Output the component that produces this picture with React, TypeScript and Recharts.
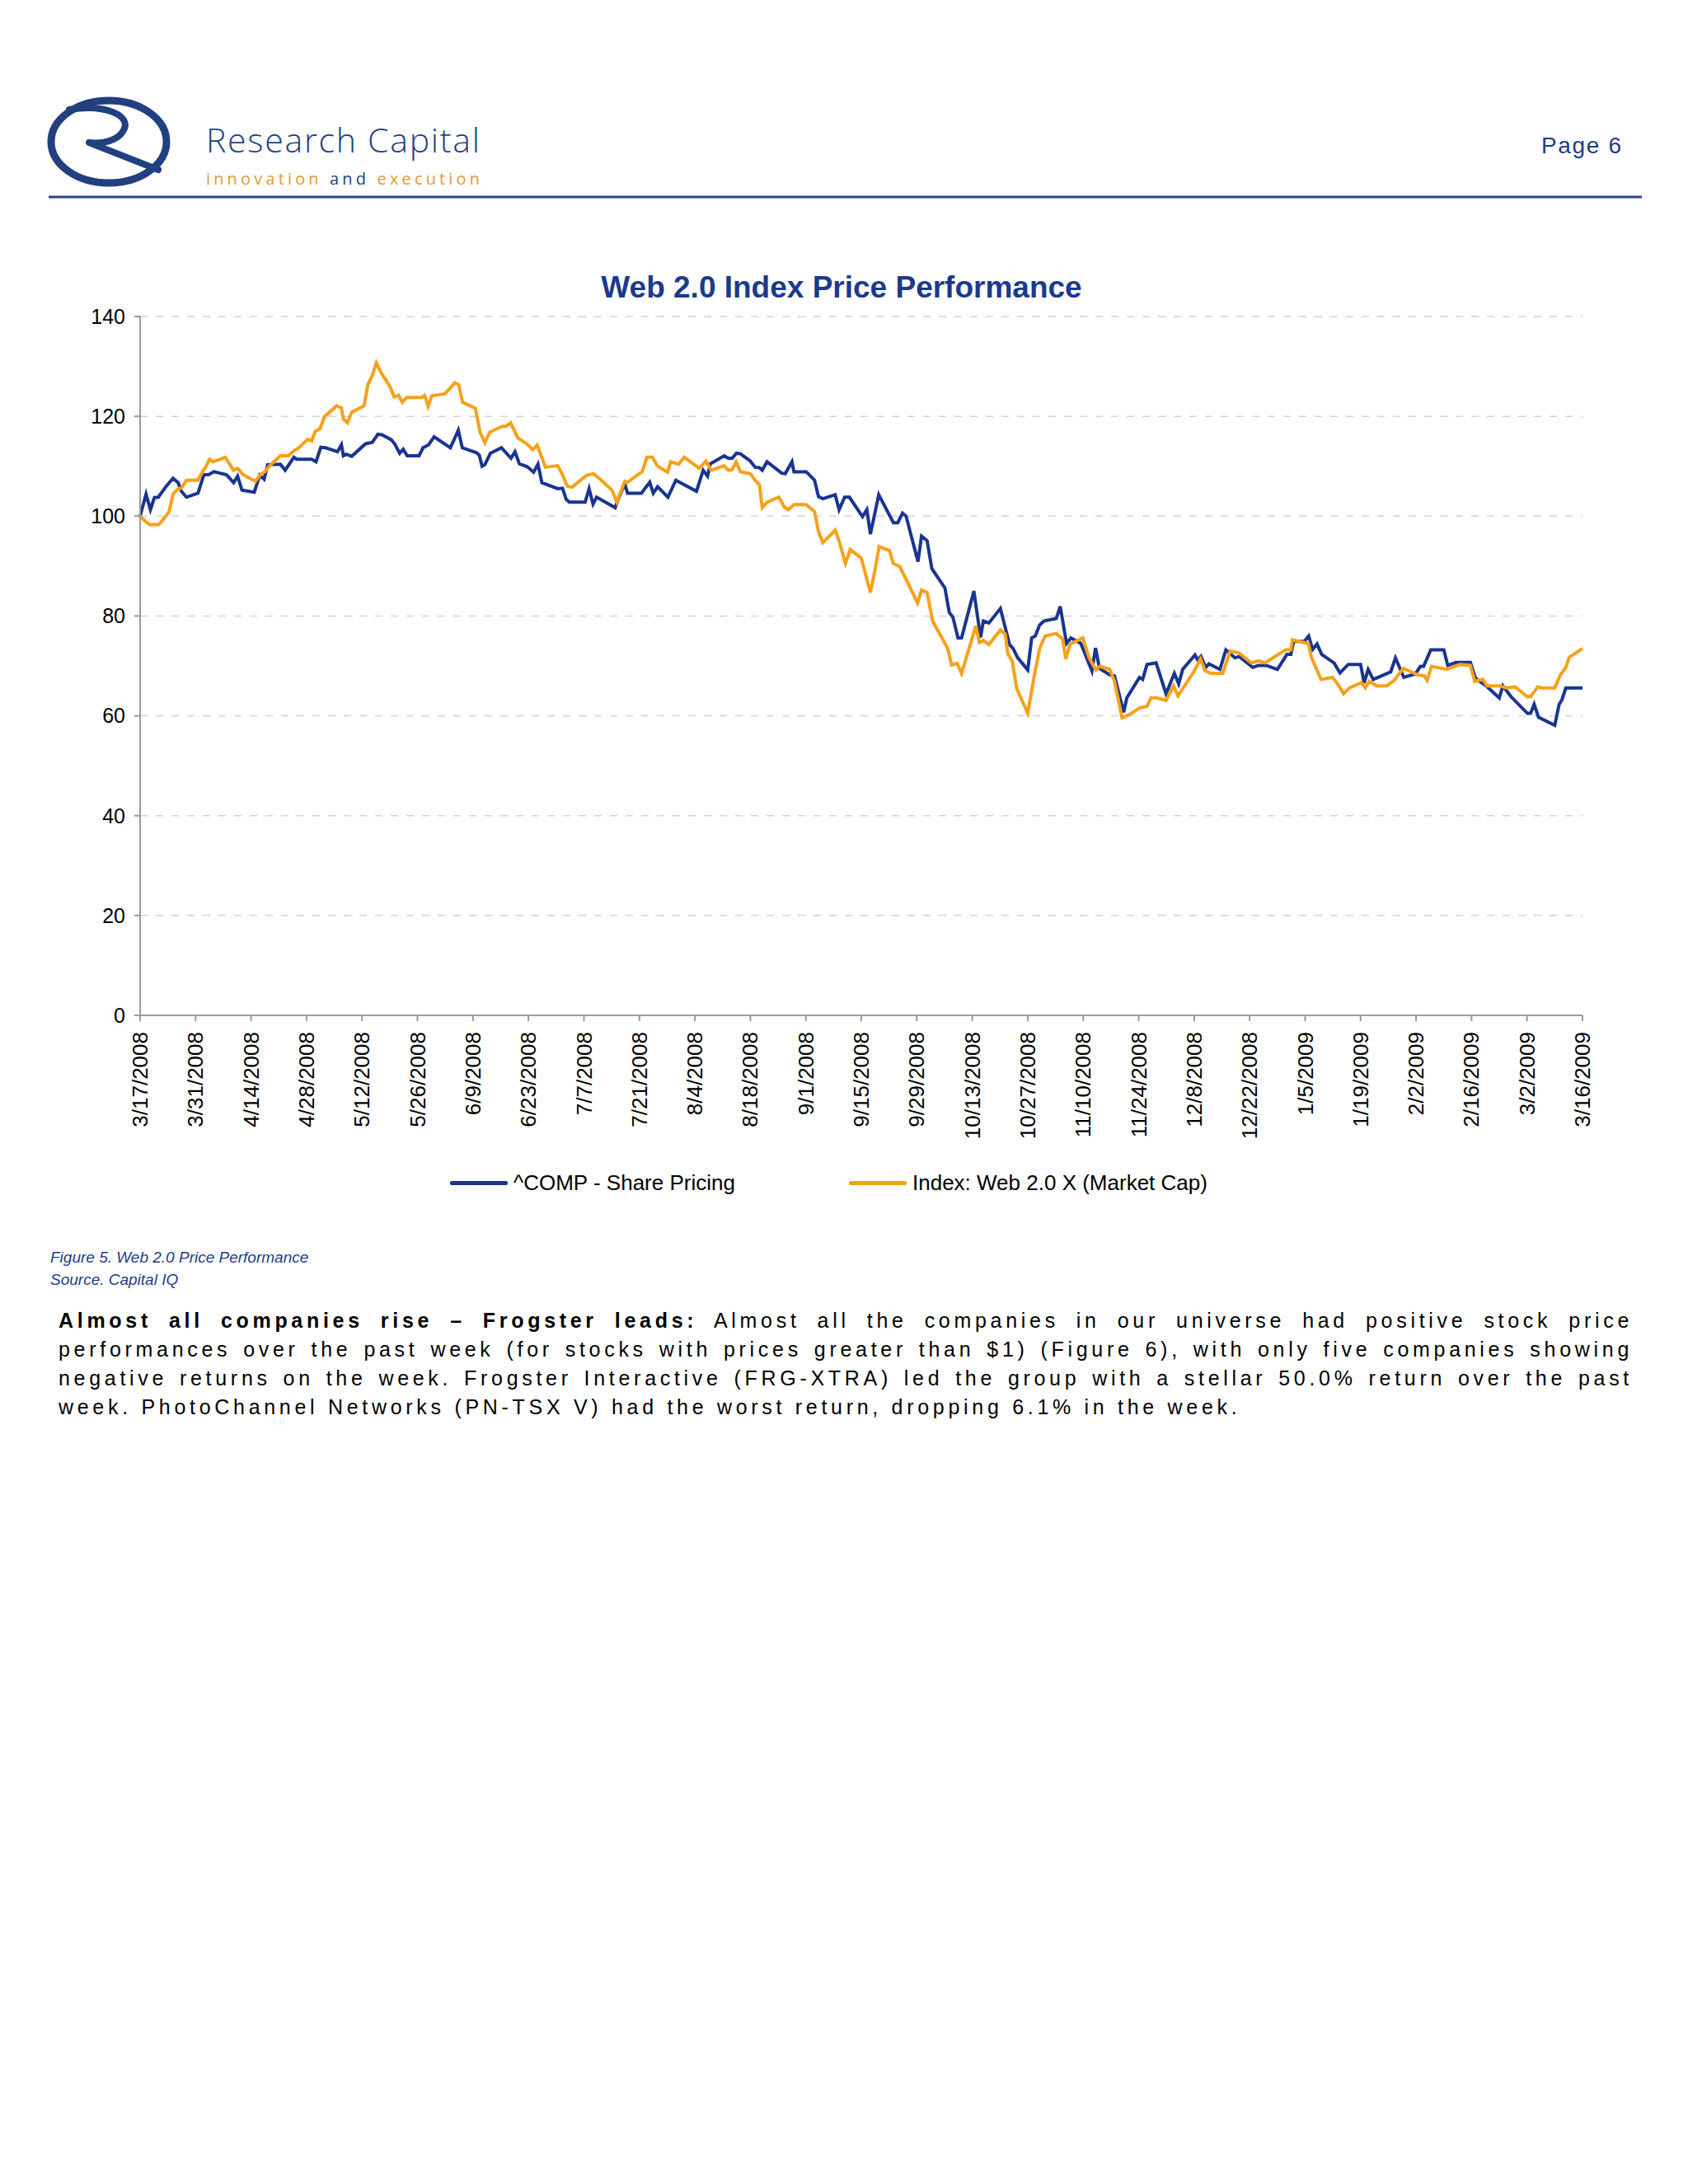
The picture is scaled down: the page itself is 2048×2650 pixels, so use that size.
import React from 'react';
import { LineChart, Line, XAxis, YAxis, CartesianGrid, Legend } from 'recharts';

const tickDays = [0, 14, 28, 42, 56, 70, 84, 98, 112, 126, 140, 154, 168, 182, 196, 210, 224, 238, 252, 266, 280, 294, 308, 322, 336, 350, 364];
const tickLabels = [
  '3/17/2008', '3/31/2008', '4/14/2008', '4/28/2008', '5/12/2008', '5/26/2008', '6/9/2008',
  '6/23/2008', '7/7/2008', '7/21/2008', '8/4/2008', '8/18/2008', '9/1/2008', '9/15/2008',
  '9/29/2008', '10/13/2008', '10/27/2008', '11/10/2008', '11/24/2008', '12/8/2008',
  '12/22/2008', '1/5/2009', '1/19/2009', '2/2/2009', '2/16/2009', '3/2/2009', '3/16/2009',
];
const yTicks = [0, 20, 40, 60, 80, 100, 120, 140];

const seriesNames = ['^COMP - Share Pricing', 'Index: Web 2.0 X (Market Cap)'];
const seriesColors = ['#1a3590', '#f7a11a'];

const compDays = [
  0, 1.5, 2.6, 3.6, 4.6, 6.6, 8.3, 9.6, 10.4, 11.7, 14.6, 16.1, 17.3, 18.6, 21.8, 23.6, 24.6, 25.7, 28.8, 30.2,
  31.3, 32.2, 35.4, 36.6, 38.8, 39.5, 43.3, 44.4, 45.6, 46.8, 49.8, 50.8, 51.3, 52, 53.4, 56.9, 58.6, 60, 61, 63.4,
  64.3, 65.5, 66.4, 67.4, 70.4, 71.4, 72.8, 74.2, 78.3, 80.3, 81.3, 84.9, 85.6, 86.3, 87, 88.4, 91.2, 93.6, 94.6, 95.7,
  97.7, 99.3, 100.4, 101.4, 105.4, 106.6, 107.5, 108.3, 112.3, 113.3, 114.3, 115.2, 119.9, 120.6, 122.3, 123, 126.5, 128.6, 129.5, 130.6,
  133.2, 135.2, 140.4, 142.1, 143.2, 143.9, 147.4, 148.4, 149.4, 150.5, 151.5, 153.9, 155.2, 156.3, 157, 158.2, 161.9, 162.8, 164.5, 165,
  168.1, 170.2, 171.2, 172.3, 175.4, 176.4, 177.8, 179, 182.3, 183.4, 184.3, 186.4, 190.1, 191.2, 192.4, 193.3, 196.3, 197.2, 198.6, 199.8,
  203.1, 204.2, 205.1, 206.4, 207.3, 210.4, 212.1, 212.8, 214.2, 217.1, 219.4, 220.3, 221.5, 224, 225, 225.9, 227, 228.1, 231.2, 232.2,
  233.8, 234.9, 237.4, 240.2, 241.1, 242.1, 244.7, 245.9, 248.2, 249, 252.2, 253, 254.1, 256.4, 258.9, 261, 262.1, 263.1, 266.2, 266.9,
  267.7, 268.9, 269.7, 272.5, 274, 276.3, 277.3, 280.8, 282.2, 284.2, 287, 289.4, 290.4, 291.1, 293.8, 294.9, 295.9, 297, 298.2, 301.3,
  302.8, 304.9, 308, 308.9, 309.9, 311.2, 315.6, 316.8, 318.9, 321.8, 323.1, 323.9, 325.7, 329, 330, 332.1, 335.7, 337, 339.4, 343,
  343.9, 346, 350.1, 350.9, 351.8, 352.9, 357, 358.1, 358.8, 359.8, 364,
];
const compValues = [
  100, 104.4, 101.3, 103.7, 103.8, 106.0, 107.6, 106.7, 105.0, 103.8, 104.6, 108.3, 108.3, 108.9, 108.3, 106.7, 108.0, 105.2, 104.8, 108.2,
  107.4, 110.3, 110.4, 109.2, 111.8, 111.4, 111.4, 110.9, 113.8, 113.7, 112.9, 114.3, 112.1, 112.4, 112.0, 114.5, 114.8, 116.4, 116.3, 115.3,
  114.4, 112.6, 113.4, 112.1, 112.1, 113.7, 114.3, 115.9, 113.7, 117.2, 113.7, 112.7, 112.2, 110.0, 110.3, 112.6, 113.7, 111.6, 112.9, 110.5,
  109.9, 108.8, 110.4, 106.7, 105.5, 105.6, 103.4, 102.8, 102.8, 105.5, 102.4, 103.8, 101.7, 103.3, 106.5, 104.6, 104.6, 106.8, 104.6, 105.9,
  103.8, 107.2, 105.0, 109.2, 108.0, 110.5, 112.1, 111.6, 111.6, 112.6, 112.5, 111.1, 109.8, 109.7, 109.2, 110.9, 108.6, 108.5, 110.9, 108.9,
  108.9, 107.2, 103.9, 103.5, 104.3, 101.3, 103.8, 103.8, 99.9, 101.3, 96.4, 104.3, 98.7, 98.7, 100.6, 100.0, 90.9, 96.0, 95.1, 89.5,
  85.6, 80.7, 79.8, 75.6, 75.6, 85.0, 75.7, 79.0, 78.6, 81.5, 74.3, 73.5, 71.6, 69.2, 75.6, 76.0, 78.2, 79.0, 79.5, 81.9,
  74.5, 75.6, 74.5, 69.0, 73.6, 69.5, 68.2, 68.0, 60.7, 63.6, 67.7, 67.3, 70.3, 70.6, 64.4, 68.5, 66.4, 69.3, 72.2, 71.2,
  71.9, 69.7, 70.4, 69.3, 73.2, 71.6, 71.9, 69.7, 70.1, 70.1, 69.3, 72.3, 72.3, 74.9, 74.9, 76.0, 73.3, 74.4, 72.3, 70.6,
  68.6, 70.3, 70.3, 66.6, 69.3, 67.3, 68.8, 71.6, 67.7, 68.4, 69.9, 69.9, 73.2, 73.2, 70.1, 70.7, 70.7, 67.5, 66.2, 63.6,
  66.0, 63.8, 60.5, 60.5, 62.3, 59.7, 58.1, 62.3, 63.2, 65.6, 65.6,
];

const webDays = [
  0, 1.4, 2.4, 4.7, 5.9, 7.3, 8.3, 9.6, 10.4, 11.7, 14.6, 15.8, 16.6, 17.5, 18.4, 21.5, 23.6, 24.6, 26, 29.1,
  30.4, 31.5, 32.6, 35.4, 37.4, 38.8, 39.9, 42.3, 43.3, 44.2, 45.4, 46.5, 49.6, 50.8, 51.3, 52.3, 53.4, 56.5, 57.5, 58.6,
  59.6, 60.7, 63.1, 64.1, 65.2, 66.2, 67.3, 71.1, 71.8, 72.7, 73.6, 76.9, 78.2, 79.4, 80.4, 81.4, 84.6, 85.8, 87, 88.2,
  91.5, 92.3, 93.5, 95.3, 97.7, 99.1, 100.2, 102.3, 105.4, 106.6, 107.8, 109, 112.7, 114.4, 116.1, 119.1, 120.3, 122.2, 123, 126.7,
  127.9, 129.3, 130.5, 133.1, 133.9, 135.9, 137.3, 141.1, 142.8, 144.1, 147.4, 148.4, 149.4, 150.4, 151.5, 154, 155.2, 156.3, 157, 158.2,
  161.2, 162.6, 163.6, 165, 168.1, 170.2, 171.2, 172.3, 175.4, 176.4, 178, 179.2, 182, 184.3, 185.4, 186.5, 189.1, 190.1, 191.7, 193.4,
  196.2, 197.2, 198.6, 200, 203.8, 204.8, 206.2, 207.3, 210.9, 211.8, 212.8, 214.2, 217.1, 218.3, 219, 220.1, 221.2, 224, 225.6, 227,
  228.4, 231.2, 232.8, 233.6, 234.7, 237.9, 239.5, 241.2, 242.2, 244.7, 245.9, 247.8, 249.5, 252.3, 254.1, 255.1, 256.5, 258.9, 260.8, 261.9,
  265.9, 267.6, 268.7, 270.1, 273.2, 275.1, 277.3, 280.4, 282.2, 283.9, 287, 289.1, 290.4, 290.8, 294.8, 295.6, 296.7, 298, 300.9, 302,
  302.8, 303.7, 305.2, 307.5, 308.2, 309.2, 310.2, 312.1, 314.6, 316.5, 317.5, 318.8, 322.4, 324.1, 324.8, 325.9, 329.7, 331, 333.1, 335.7,
  336.8, 338.9, 339.9, 343.2, 344.9, 347, 350.1, 350.9, 352.7, 353.9, 357, 358.4, 359.8, 360.6, 364,
];
const webValues = [
  100, 98.9, 98.3, 98.3, 99.4, 100.9, 104.4, 105.5, 105.6, 107.2, 107.2, 109.0, 109.9, 111.4, 110.9, 111.8, 109.2, 109.6, 108.3, 107.0,
  108.3, 108.9, 110.0, 112.1, 112.1, 113.1, 113.6, 115.4, 115.1, 117.0, 117.5, 119.9, 122.1, 121.7, 119.5, 118.7, 120.8, 122.1, 126.4, 128.2,
  130.7, 128.9, 125.9, 123.9, 124.2, 122.8, 123.8, 123.8, 124.2, 122.0, 124.1, 124.5, 125.6, 126.7, 126.3, 122.8, 121.6, 116.8, 114.7, 116.8,
  118.0, 118.0, 118.7, 115.7, 114.4, 113.3, 114.2, 109.8, 110.1, 108.3, 106.0, 105.8, 108.2, 108.5, 107.4, 105.2, 102.8, 106.8, 106.8, 108.9,
  111.8, 111.8, 110.1, 108.8, 110.9, 110.4, 111.8, 109.6, 111.0, 109.2, 110.1, 109.2, 109.3, 110.9, 108.9, 108.5, 107.2, 106.3, 101.7, 102.8,
  103.8, 101.8, 101.3, 102.3, 102.3, 100.9, 96.9, 94.7, 97.2, 95.0, 90.5, 93.3, 91.6, 84.7, 89.0, 93.9, 93.1, 90.5, 89.9, 87.2,
  82.6, 85.2, 84.7, 79.0, 73.5, 70.2, 70.5, 68.5, 78.0, 74.7, 75.1, 74.3, 77.2, 76.4, 72.4, 71.0, 65.5, 60.5, 67.8, 73.5,
  76.0, 76.5, 75.4, 71.4, 74.4, 75.6, 71.6, 69.2, 69.9, 69.3, 66.9, 59.6, 60.2, 61.6, 61.9, 63.6, 63.6, 63.1, 66.0, 64.0,
  68.8, 71.4, 69.1, 68.5, 68.5, 73.0, 72.6, 70.6, 71.0, 70.6, 72.2, 73.2, 73.2, 75.2, 74.5, 71.7, 69.7, 67.3, 67.7, 66.6,
  65.7, 64.4, 65.6, 66.4, 66.7, 65.6, 66.9, 66.0, 66.0, 67.1, 68.2, 69.5, 68.2, 68.0, 67.1, 69.9, 69.3, 69.7, 70.3, 70.1,
  66.9, 67.3, 66.0, 66.0, 65.6, 65.8, 63.8, 63.8, 65.8, 65.6, 65.6, 68.2, 69.7, 71.7, 73.5,
];

const compData = compDays.map((d, i) => ({ day: d, value: compValues[i] }));
const webData = webDays.map((d, i) => ({ day: d, value: webValues[i] }));

const FONT = '"Liberation Sans", Arial, Helvetica, sans-serif';
const NAVY = '#1f3c88';
const AXIS = '#9a9a9a';

const XTick = (props: any) => {
  const { x, y, payload } = props;
  const idx = tickDays.indexOf(payload.value);
  const label = idx >= 0 ? tickLabels[idx] : '';
  return (
    <text
      x={x}
      y={y}
      transform={`rotate(-90 ${x} ${y})`}
      textAnchor="end"
      dy="0.35em"
      fontSize={26}
      fill="#000"
      fontFamily={FONT}
    >
      {label}
    </text>
  );
};

const LegendContent = () => {
  const lefts = [546, 1030];
  return (
    <div style={{ position: 'relative', height: 0, width: 2048 }}>
      {seriesNames.map((name, i) => (
        <div
          key={name}
          style={{
            position: 'absolute',
            left: lefts[i],
            top: 0,
            height: 30,
            display: 'flex',
            alignItems: 'center',
            whiteSpace: 'nowrap',
          }}
        >
          <span style={{ display: 'inline-block', width: 70, height: 5, background: seriesColors[i], marginRight: 7, borderRadius: 2 }} />
          <span style={{ fontFamily: FONT, fontSize: 26, color: '#000' }}>{name}</span>
        </div>
      ))}
    </div>
  );
};

const bodyLine: React.CSSProperties = {
  textAlign: 'justify',
  textAlignLast: 'justify' as any,
  height: 35,
};

export default function App() {
  return (
    <div style={{ position: 'absolute', left: 0, top: 0, width: 2048, height: 2650, background: '#fff', overflow: 'hidden' }}>
      {/* Header */}
      <svg width={2048} height={260} style={{ position: 'absolute', left: 0, top: 0 }}>
        <ellipse cx={132} cy={172} rx={70} ry={50} fill="none" stroke="#22407f" strokeWidth={9} />
        <path
          d="M 84 133 C 128 126, 160 140, 150 158 C 143 171, 124 175, 108 173 L 192 206"
          fill="none"
          stroke="#22407f"
          strokeWidth={8}
          strokeLinecap="round"
          strokeLinejoin="round"
        />
        <text x={250} y={185} fontFamily='"Open Sans", "Noto Sans", sans-serif' fontWeight={300} fontSize={41} fill="#23427f" textLength={332} lengthAdjust="spacing">
          Research Capital
        </text>
        <text x={250} y={224} fontFamily='"Open Sans", "Noto Sans", sans-serif' fontSize={20} textLength={332} lengthAdjust="spacing">
          <tspan fill="#e39b2e">innovation</tspan>
          <tspan fill="#23427f"> and </tspan>
          <tspan fill="#e39b2e">execution</tspan>
        </text>
        <text x={1870} y={186} fontFamily={FONT} fontSize={28} fill={NAVY} textLength={97} lengthAdjust="spacing">
          Page 6
        </text>
        <line x1={59} y1={239} x2={1992} y2={239} stroke="#2c4485" strokeWidth={3} />
      </svg>

      {/* Title */}
      <svg width={2048} height={60} style={{ position: 'absolute', left: 0, top: 320 }}>
        <text x={1021} y={41} textAnchor="middle" fontFamily={FONT} fontWeight="bold" fontSize={37} fill="#1b3a8c">
          Web 2.0 Index Price Performance
        </text>
      </svg>

      {/* Chart */}
      <div style={{ position: 'absolute', left: 0, top: 0 }}>
        <LineChart width={2048} height={1500} margin={{ top: 384, right: 128, bottom: 118, left: 0 }}>
          <CartesianGrid vertical={false} stroke="#d4d4d4" strokeDasharray="9 10" strokeWidth={1.5} />
          <XAxis
            type="number"
            dataKey="day"
            domain={[0, 364]}
            ticks={tickDays}
            interval={0}
            height={150}
            tickSize={7}
            tickMargin={13}
            axisLine={{ stroke: AXIS, strokeWidth: 2 }}
            tickLine={{ stroke: AXIS, strokeWidth: 2 }}
            tick={<XTick />}
          />
          <YAxis
            type="number"
            domain={[0, 140]}
            ticks={yTicks}
            interval={0}
            width={170}
            tickSize={7}
            tickMargin={11}
            axisLine={{ stroke: AXIS, strokeWidth: 2 }}
            tickLine={{ stroke: AXIS, strokeWidth: 2 }}
            tick={{ fontSize: 25, fill: '#000', fontFamily: FONT }}
          />
          <Legend
            verticalAlign="bottom"
            content={<LegendContent />}
            wrapperStyle={{ position: 'absolute', top: 1420, left: 0, width: 2048, height: 0, bottom: 'auto' }}
          />
          <Line
            data={compData}
            dataKey="value"
            name={seriesNames[0]}
            type="linear"
            stroke={seriesColors[0]}
            strokeWidth={4}
            dot={false}
            activeDot={false}
            isAnimationActive={false}
          />
          <Line
            data={webData}
            dataKey="value"
            name={seriesNames[1]}
            type="linear"
            stroke={seriesColors[1]}
            strokeWidth={4}
            dot={false}
            activeDot={false}
            isAnimationActive={false}
          />
        </LineChart>
      </div>

      {/* Caption */}
      <div style={{ position: 'absolute', left: 61, top: 1512, fontFamily: FONT, fontStyle: 'italic', fontSize: 19, lineHeight: '27px', color: NAVY }}>
        <div>Figure 5. Web 2.0 Price Performance</div>
        <div>Source. Capital IQ</div>
      </div>

      {/* Body text */}
      <div style={{ position: 'absolute', left: 71, top: 1585, width: 1910, fontFamily: FONT, fontSize: 25, lineHeight: '35px', letterSpacing: 4.7, color: '#000' }}>
        <div style={bodyLine}>
          <span style={{ fontWeight: 'bold' }}>Almost all companies rise – Frogster leads:</span> Almost all the companies in our universe had positive stock price
        </div>
        <div style={bodyLine}>
          performances over the past week (for stocks with prices greater than $1) (Figure 6), with only five companies showing
        </div>
        <div style={bodyLine}>
          negative returns on the week. Frogster Interactive (FRG-XTRA) led the group with a stellar 50.0% return over the past
        </div>
        <div style={{ height: 35 }}>
          week. PhotoChannel Networks (PN-TSX V) had the worst return, dropping 6.1% in the week.
        </div>
      </div>
    </div>
  );
}
